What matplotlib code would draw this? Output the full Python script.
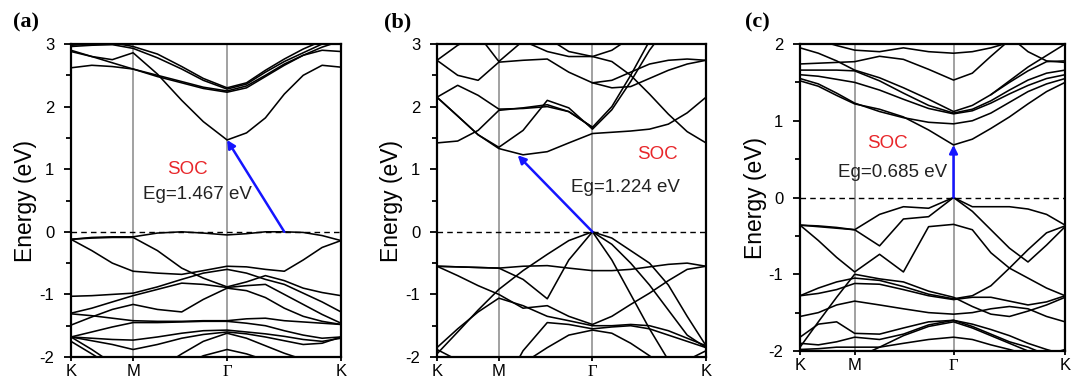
import numpy as np
import matplotlib.pyplot as plt
from matplotlib.ticker import MultipleLocator

plt.rcParams['font.family'] = ['Liberation Sans', 'DejaVu Sans']
plt.rcParams['axes.unicode_minus'] = False

nan = np.nan

# k-path positions (fraction of K-M-Gamma-K path)
k_ab = [0, 0.077, 0.153, 0.23, 0.32, 0.41, 0.49, 0.578, 0.65, 0.72, 0.79, 0.86, 0.93, 1.0]
k_c = [0, 0.069, 0.138, 0.206, 0.30, 0.39, 0.485, 0.579, 0.65, 0.72, 0.79, 0.86, 0.93, 1.0]
kpts_ab = [0, 0.23, 0.578, 1.0]
kpts_c = [0, 0.206, 0.579, 1.0]
klabels = ['K', 'M', 'Γ', 'K']

# panel (a) bands (eV)
bands_a = [
    [2.88, 2.80, 2.75, 2.86, 2.52, 2.10, 1.76, 1.467, 1.58, 1.82, 2.20, 2.50, 2.66, 2.63],
    [2.62, 2.66, 2.64, 2.60, 2.48, 2.38, 2.29, 2.23, 2.30, 2.48, 2.66, 2.82, 2.95, 3.05],
    [2.90, 2.80, 2.70, 2.60, 2.50, 2.40, 2.31, 2.25, 2.33, 2.50, 2.68, 2.82, 2.90, 2.88],
    [2.96, 2.98, 2.99, 2.93, 2.78, 2.60, 2.42, 2.28, 2.36, 2.55, 2.72, 2.86, 3.00, 3.05],
    [2.98, 3.00, 3.02, 2.96, 2.84, 2.64, 2.45, 2.30, 2.38, 2.58, 2.76, 2.92, 3.05, 3.10],
    [-0.12, -0.09, -0.08, -0.08, -0.02, 0.0, -0.02, -0.05, -0.03, 0.0, 0.0, -0.01, -0.06, -0.14],
    [-0.12, -0.30, -0.50, -0.63, -0.66, -0.68, -0.62, -0.55, -0.56, -0.60, -0.63, -0.45, -0.25, -0.14],
    [-0.12, -0.10, -0.09, -0.09, -0.30, -0.58, -0.74, -0.88, -0.80, -0.70, -0.78, -0.90, -0.97, -1.02],
    [-1.03, -1.02, -1.00, -0.98, -0.88, -0.76, -0.66, -0.60, -0.66, -0.76, -0.84, -0.98, -1.12, -1.28],
    [-1.30, -1.22, -1.12, -1.02, -0.92, -0.82, -0.84, -0.89, -0.86, -0.84, -1.00, -1.16, -1.32, -1.46],
    [-1.49, -1.36, -1.24, -1.16, -1.24, -1.28, -1.08, -0.90, -0.94, -1.05, -1.22, -1.35, -1.43, -1.48],
    [-1.31, -1.34, -1.38, -1.42, -1.43, -1.43, -1.42, -1.42, -1.39, -1.38, -1.42, -1.44, -1.46, -1.48],
    [-1.68, -1.60, -1.52, -1.45, -1.45, -1.44, -1.43, -1.43, -1.46, -1.50, -1.58, -1.65, -1.70, -1.68],
    [-1.68, -1.70, -1.72, -1.73, -1.68, -1.62, -1.58, -1.57, -1.60, -1.63, -1.67, -1.72, -1.75, -1.70],
    [-1.68, -1.74, -1.80, -1.88, -1.80, -1.70, -1.64, -1.60, -1.63, -1.68, -1.74, -1.80, -1.78, -1.68],
    [-1.68, -1.88, -2.10, -2.30, -2.20, -1.95, -1.75, -1.62, -1.70, -1.82, -1.94, -2.04, -2.14, -2.20],
    [-1.75, -1.95, -2.15, -2.30, -2.30, -2.15, -1.98, -1.88, -1.95, -2.05, -2.15, -2.20, -2.20, -2.20],
]

# panel (b) bands (eV)
bands_b = [
    [2.15, 1.85, 1.55, 1.33, 1.23, 1.28, 1.42, 1.57, 1.59, 1.61, 1.64, 1.72, 1.90, 2.15],
    [1.42, 1.45, 1.62, 1.94, 1.98, 2.03, 1.92, 1.67, 2.00, 2.50, 3.05, 3.40, 3.60, 3.70],
    [2.15, 1.85, 1.55, 1.35, 1.62, 2.10, 1.98, 1.64, 1.95, 2.40, 2.90, 3.30, 3.50, 3.60],
    [2.15, 2.34, 2.18, 1.96, 1.97, 2.00, 1.92, 1.67, nan, nan, nan, nan, nan, nan],
    [2.74, 2.50, 2.42, 2.71, 2.74, 2.76, 2.55, 2.38, 2.42, 2.55, 2.68, 2.74, 2.76, 2.74],
    [2.74, 2.98, 3.15, 2.72, 3.05, 2.88, 2.80, 2.80, 2.72, 2.50, 2.20, 1.88, 1.60, 1.42],
    [3.30, 3.30, 3.30, 3.30, 3.30, 3.10, 2.88, 2.80, 2.90, 3.10, 3.30, 3.30, 3.30, 3.30],
    [nan, nan, nan, nan, nan, nan, nan, 2.38, 2.30, 2.32, 2.45, 2.58, 2.68, 2.74],
    [-1.95, -1.60, -1.25, -0.92, -0.62, -0.36, -0.14, 0.0, -0.10, -0.30, -0.50, -0.85, -1.35, -1.82],
    [-0.55, -0.56, -0.57, -0.58, -0.55, -0.54, -0.58, -0.62, -0.62, -0.60, -0.56, -0.52, -0.50, -0.55],
    [-0.55, -0.56, -0.57, -0.58, -0.76, -1.07, -0.45, 0.0, -0.45, -1.00, -1.55, -2.05, -2.50, -2.90],
    [nan, nan, nan, nan, nan, nan, nan, 0.0, -0.20, -0.50, -0.85, -1.25, -1.65, -1.85],
    [-0.55, -0.70, -0.86, -1.00, -1.22, -1.18, -1.35, -1.48, -1.35, -1.16, -0.98, -0.78, -0.60, -0.55],
    [-1.85, -1.55, -1.28, -1.06, -1.18, -1.35, -1.42, -1.50, -1.50, -1.48, -1.50, -1.58, -1.70, -1.82],
    [nan, nan, nan, -2.30, -2.10, -1.85, -1.65, -1.57, -1.62, -1.78, -1.98, -2.20, nan, nan],
    [nan, nan, nan, -2.60, -1.90, -1.45, -1.48, -1.55, -1.52, -1.50, -1.55, -1.65, -1.75, -1.85],
    [-1.88, -2.05, -2.30, nan, nan, nan, nan, nan, nan, nan, nan, -2.30, -2.05, -1.90],
]

# panel (c) bands (eV)
bands_c = [
    [1.52, 1.45, 1.33, 1.22, 1.15, 1.05, 0.88, 0.685, 0.76, 0.90, 1.05, 1.22, 1.38, 1.50],
    [1.55, 1.48, 1.36, 1.23, 1.12, 1.04, 0.98, 0.96, 1.00, 1.10, 1.24, 1.38, 1.48, 1.55],
    [1.60, 1.58, 1.54, 1.50, 1.40, 1.28, 1.16, 1.09, 1.13, 1.23, 1.35, 1.46, 1.55, 1.60],
    [1.66, 1.66, 1.66, 1.65, 1.52, 1.36, 1.20, 1.10, 1.15, 1.26, 1.40, 1.53, 1.62, 1.66],
    [1.95, 1.88, 1.78, 1.66, 1.56, 1.43, 1.28, 1.12, 1.20, 1.34, 1.50, 1.65, 1.77, 1.78],
    [1.74, 1.75, 1.76, 1.77, 1.84, 1.80, 1.67, 1.53, 1.62, 1.84, 2.05, 2.25, 2.40, 2.50],
    [2.15, 2.05, 1.98, 1.92, 1.90, 1.95, 1.90, 1.88, 1.90, 1.95, 2.02, 2.10, 2.15, 2.20],
    [nan, nan, nan, nan, nan, nan, nan, nan, nan, 2.30, 2.10, 1.90, 1.78, 1.76],
    [nan, nan, nan, nan, nan, nan, nan, nan, nan, 1.34, 1.52, 1.70, 1.85, 2.00],
    [-0.36, -0.37, -0.39, -0.42, -0.22, -0.12, -0.14, 0.0, -0.12, -0.12, -0.12, -0.15, -0.22, -0.36],
    [-0.36, -0.38, -0.40, -0.42, -0.63, -0.28, -0.25, 0.0, -0.18, -0.42, -0.66, -0.84, -0.62, -0.38],
    [-0.36, -0.56, -0.78, -0.97, -0.74, -0.97, -0.38, -0.35, -0.42, -0.72, -0.92, -1.05, -1.18, -1.28],
    [-1.28, -1.18, -1.10, -1.05, -1.08, -1.16, -1.26, -1.32, -1.28, -1.15, -0.92, -0.68, -0.46, -0.37],
    [-1.28, -1.25, -1.20, -1.12, -1.13, -1.20, -1.28, -1.33, -1.30, -1.30, -1.35, -1.40, -1.36, -1.28],
    [-1.95, -1.62, -1.30, -1.00, -1.06, -1.10, -1.22, -1.30, -1.42, -1.52, -1.55, -1.48, -1.40, -1.30],
    [-1.55, -1.50, -1.40, -1.35, -1.40, -1.45, -1.50, -1.52, -1.50, -1.45, -1.42, -1.45, -1.55, -1.62],
    [-1.82, -1.65, -1.62, -1.77, -1.78, -1.70, -1.62, -1.60, -1.65, -1.72, -1.80, -1.90, -1.98, -2.05],
    [-1.90, -1.92, -1.88, -1.82, -1.85, -1.78, -1.66, -1.60, -1.68, -1.78, -1.88, -1.95, -2.05, -2.20],
    [-1.98, -1.97, -1.95, -1.95, -1.95, -1.90, -1.85, -1.82, -1.85, -1.92, -1.98, -2.05, -2.10, -2.15],
    [nan, nan, nan, -2.10, -1.95, -1.80, -1.68, -1.62, -1.70, -1.80, -1.90, -2.00, -2.05, -1.98],
]

# gap arrows: (k tail, E tail, k head, E head)
arrow_a = (0.79, 0.0, 0.578, 1.467)
arrow_b = (0.578, 0.0, 0.30, 1.224)
arrow_c = (0.579, 0.0, 0.579, 0.685)
gap_text = ['Eg=1.467 eV', 'Eg=1.224 eV', 'Eg=0.685 eV']


def draw_panel(ax, k, bands, kpts, ylim, arrow, soc_xy, eg_xy, eg_label, label_x):
    for kp in kpts[1:-1]:
        ax.axvline(kp, color='#9a9a9a', lw=1.3, zorder=1)
    for b in bands:
        ax.plot(k, b, color='black', lw=1.15, zorder=2)
    ax.axhline(0, color='black', lw=1.0, ls=(0, (4, 3)), zorder=2)
    ax.annotate('', xy=(arrow[2], arrow[3]), xytext=(arrow[0], arrow[1]),
                arrowprops=dict(arrowstyle='-|>', color='#1515ff', lw=1.8,
                                mutation_scale=12, shrinkA=0, shrinkB=0), zorder=4)
    ax.text(soc_xy[0], soc_xy[1], 'SOC', color='#e8262a', fontsize=13.5,
            ha='center', va='center')
    ax.text(eg_xy[0], eg_xy[1], eg_label, color='#222222', fontsize=13.5,
            ha='center', va='center')
    ax.set_xlim(0, 1)
    ax.set_ylim(*ylim)
    ax.set_xticks(kpts)
    ax.set_xticklabels(klabels, fontsize=12)
    for lbl in ax.get_xticklabels():
        if lbl.get_text() == 'Γ':
            lbl.set_fontfamily('Liberation Serif')
    ax.yaxis.set_major_locator(MultipleLocator(1))
    ax.yaxis.set_minor_locator(MultipleLocator(0.5))
    ax.tick_params(axis='y', which='major', direction='out', length=5, width=1.3,
                   labelsize=12, pad=7)
    ax.tick_params(axis='y', which='minor', direction='out', length=3.5, width=1.3)
    ax.tick_params(axis='x', direction='out', length=3, width=1.3, labelsize=12, pad=2)
    for s in ax.spines.values():
        s.set_linewidth(1.6)
    ax.set_ylabel('Energy (eV)', fontsize=16.5)
    ax.yaxis.set_label_coords(label_x, 0.5)


fig = plt.figure(figsize=(10.71, 3.85), dpi=100)
ax_a = fig.add_axes([0.0663, 0.0727, 0.2521, 0.8130])
ax_b = fig.add_axes([0.4080, 0.0727, 0.2512, 0.8130])
ax_c = fig.add_axes([0.7470, 0.0883, 0.2475, 0.7974])

draw_panel(ax_a, k_ab, bands_a, kpts_ab, (-2, 3), arrow_a, (0.43, 1.0), (0.47, 0.6),
           gap_text[0], -0.125)
draw_panel(ax_b, k_ab, bands_b, kpts_ab, (-2, 3), arrow_b, (0.82, 1.23), (0.70, 0.70),
           gap_text[1], -0.125)
draw_panel(ax_c, k_c, bands_c, kpts_c, (-2, 2), arrow_c, (0.33, 0.71), (0.35, 0.32),
           gap_text[2], -0.125)

for txt, x in zip(['(a)', '(b)', '(c)'], [26, 398, 757]):
    fig.text(x / 1071, 1 - 22 / 385, txt, fontsize=16, fontweight='bold',
             family='Liberation Serif', ha='center', va='center')

fig.savefig('out.png', dpi=100)
